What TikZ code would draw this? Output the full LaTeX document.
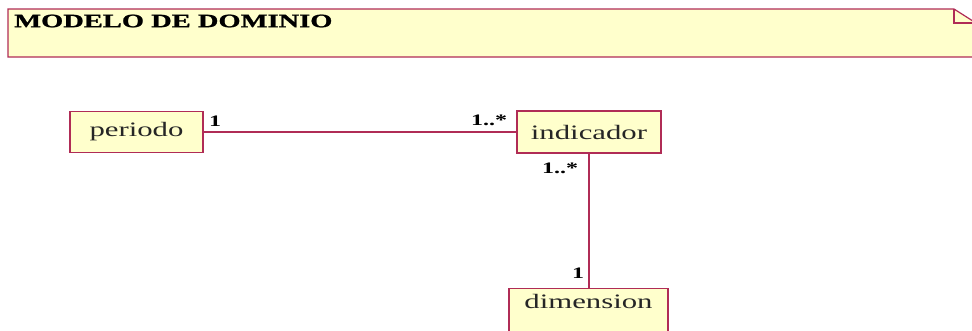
\documentclass[tikz,border=0pt]{standalone}
\usepackage{fontspec}
\setmainfont[FakeStretch=1.5]{Liberation Serif}
\newfontfamily\heavyfont[FakeStretch=1.5,FakeBold=1.2]{Liberation Serif Bold}
\definecolor{umlborder}{RGB}{176,44,86}
\definecolor{umlfill}{RGB}{255,255,204}
\begin{document}
\begin{tikzpicture}[x=1pt,y=-1pt,
  classbox/.style={draw=umlborder,fill=umlfill,line width=1.4pt,inner sep=0pt,
    font=\fontsize{20.5}{22}\selectfont,text=black!85},
  conn/.style={draw=umlborder,line width=1.2pt},
  mult/.style={font=\bfseries\fontsize{16}{18}\selectfont,inner sep=0pt}]
\useasboundingbox (0,0) rectangle (972,330);
\clip (0,0) rectangle (972,330);
% note
\draw[draw=umlborder,fill=umlfill,line width=1.2pt]
  (8,9) -- (954,9) -- (976,23) -- (976,57) -- (8,57) -- cycle;
\draw[draw=umlborder,line width=1.2pt] (954,9) -- (954,23) -- (976,23);
\node[anchor=west,inner sep=0pt,font=\heavyfont\fontsize{19}{21}\selectfont] (title) at (14,21) {MODELO DE DOMINIO};
% classes
\node[classbox,minimum width=133pt,minimum height=41pt] (periodo) at (136.5,132) {periodo};
\node[classbox,minimum width=144pt,minimum height=42pt] (indicador) at (589,132) {indicador};
\node[classbox,minimum width=159pt,anchor=north,inner ysep=7pt,text height=13pt,text depth=30pt] (dimension) at (588.5,288) {dimension};
% connectors
\draw[conn] (periodo.east) -- (indicador.west);
\draw[conn] (indicador.south) -- (indicador.south |- dimension.north);
% multiplicities
\node[mult] (m1) at (215,121) {1};
\node[mult] (m2) at (489,120) {1..*};
\node[mult] (m3) at (560,168) {1..*};
\node[mult] (m4) at (578,273) {1};
\end{tikzpicture}
\end{document}
